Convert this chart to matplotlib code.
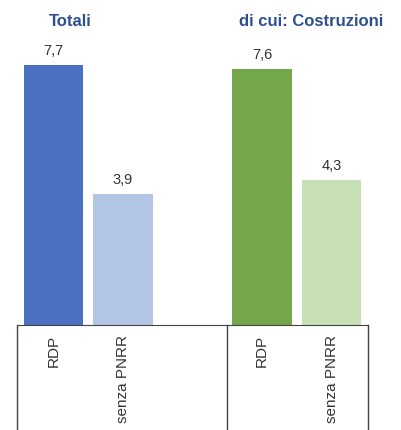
import matplotlib.pyplot as plt
import numpy as np

plt.rcParams['font.family'] = ['Liberation Sans', 'DejaVu Sans']

groups = ['Totali', 'di cui: Costruzioni']
categories = ['RDP', 'senza PNRR', 'RDP', 'senza PNRR']
values = [7.7, 3.9, 7.6, 4.3]
colors = ['#4a70c1', '#b3c5e4', '#74a749', '#c8e0b5']

x = np.array([0, 1, 3, 4])
width = 0.86

fig = plt.figure(figsize=(4.01, 4.30), dpi=100)
ax = fig.add_axes([17 / 401, 1 - 325 / 430, 351 / 401, 325 / 430])

rects = ax.bar(x, values, width, color=colors)
labels = [f'{v:.1f}'.replace('.', ',') for v in values]
ax.bar_label(rects, labels=labels, padding=5, fontsize=10.5, color='#333333')

ax.set_xlim(-0.525, 4.525)
ax.set_ylim(0, 9.64)
ax.set_yticks([])
ax.set_xticks(x, categories, rotation=90, va='top', fontsize=11, color='#333333')
ax.tick_params(axis='x', length=0, pad=7)

for s in ['top', 'left', 'right']:
    ax.spines[s].set_visible(False)
ax.spines['bottom'].set_color('#444444')

# group separators running down through the category labels
trans = ax.get_xaxis_transform()
for xv in [-0.525, 2.5, 4.525]:
    ax.plot([xv, xv], [0, -1], color='#444444', lw=1, transform=trans, clip_on=False)

fig.text(70 / 401, 1 - 21 / 430, groups[0], ha='center', va='center',
         fontsize=12, fontweight='bold', color='#2d4f8f')
fig.text(311 / 401, 1 - 21 / 430, groups[1], ha='center', va='center',
         fontsize=12, fontweight='bold', color='#2d4f8f')

fig.savefig('out.png', dpi=100)
